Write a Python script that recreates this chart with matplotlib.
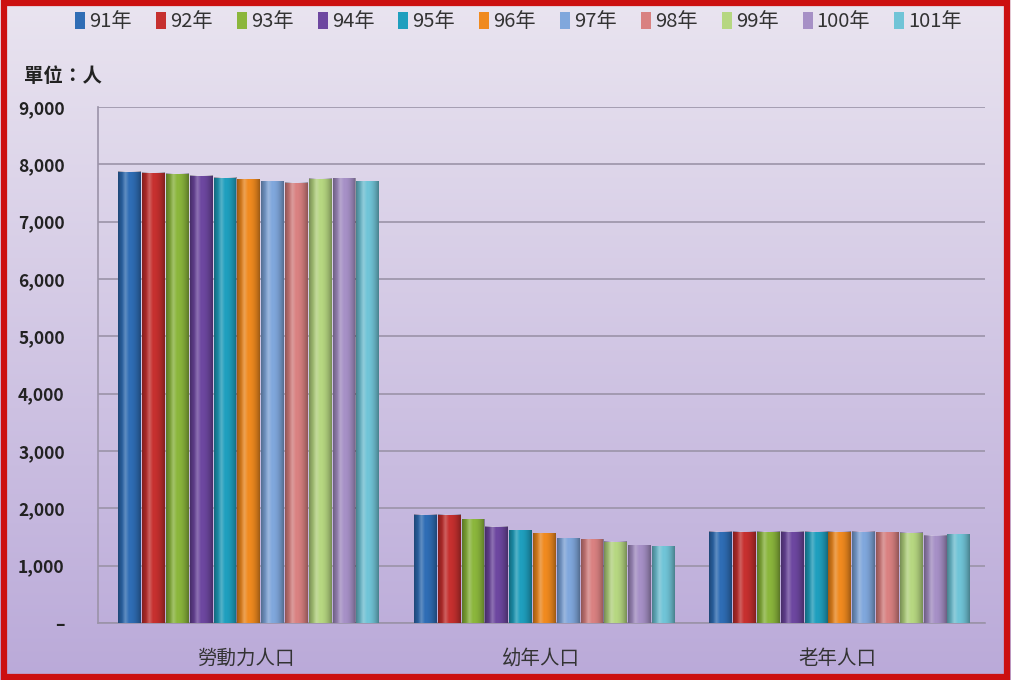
import numpy as np
import matplotlib
matplotlib.use("Agg")
import matplotlib.pyplot as plt
from matplotlib.patches import Rectangle
from matplotlib.ticker import FuncFormatter

plt.rcParams['font.family'] = ['Noto Sans CJK TC', 'DejaVu Sans']

categories = ['勞動力人口', '幼年人口', '老年人口']
years = ['91年', '92年', '93年', '94年', '95年', '96年', '97年', '98年', '99年', '100年', '101年']
labour = [7870, 7853, 7832, 7797, 7762, 7739, 7704, 7680, 7750, 7760, 7704]
youth = [1884, 1884, 1809, 1680, 1622, 1564, 1477, 1460, 1418, 1360, 1343]
elderly = [1593, 1590, 1590, 1590, 1590, 1590, 1588, 1580, 1570, 1523, 1548]
colors = ['#2f6db5', '#c6302f', '#8bb63c', '#6d47a0', '#1f9fbe', '#f08a1f',
          '#80a7dc', '#d98181', '#b6d781', '#a690c6', '#70c4d7']

values = np.array([labour, youth, elderly])

fig = plt.figure(figsize=(10.11, 6.8), dpi=100)

# background gradient
bg = fig.add_axes([0, 0, 1, 1], zorder=-10)
grad = np.linspace(0, 1, 256).reshape(-1, 1)
top = np.array([0.915, 0.895, 0.94])
bot = np.array([0.73, 0.665, 0.85])
img = top[None, None, :] * (1 - grad[:, :, None]) + bot[None, None, :] * grad[:, :, None]
bg.imshow(img, aspect='auto', extent=[0, 1, 0, 1])
bg.set_axis_off()
fig.patches.append(Rectangle((0.004, 0.004), 0.992, 0.992, transform=fig.transFigure,
                             fill=False, edgecolor='#cc1010', linewidth=4.5))

ax = fig.add_axes([0.097, 0.0838, 0.877, 0.7588])
ax.set_facecolor('none')
n = len(years)
x = np.arange(len(categories))
group_w = 0.886
bw = group_w / n
for i in range(n):
    pos = x - group_w / 2 + bw * (i + 0.5) + 0.01
    bars = ax.bar(pos, values[:, i], width=bw * 0.96, color=colors[i],
                  edgecolor='none', label=years[i], zorder=3)
    for b in bars:
        # cylinder shading
        shade = np.linspace(-1, 1, 64)
        alpha = np.clip(np.abs(shade) ** 2 * 0.35, 0, 1)
        sh = np.zeros((1, 64, 4))
        sh[0, :, 3] = alpha
        ax.imshow(sh, extent=[b.get_x(), b.get_x() + b.get_width(), 0, b.get_height()],
                  aspect='auto', zorder=4, clip_on=True)
        hl = np.ones((1, 64, 4))
        hl[0, :, 3] = np.clip(0.25 - np.abs(shade + 0.35) * 0.8, 0, 1)
        ax.imshow(hl, extent=[b.get_x(), b.get_x() + b.get_width(), 0, b.get_height()],
                  aspect='auto', zorder=4)

ax.set_xlim(-0.5, 2.5)
ax.set_ylim(0, 9000)
ax.set_yticks(np.arange(0, 9001, 1000))
ax.yaxis.set_major_formatter(FuncFormatter(lambda v, p: '–' if v == 0 else f'{int(v):,}'))
ax.set_xticks(x)
ax.set_xticklabels(categories, fontsize=14, color='#333333')
ax.tick_params(axis='y', labelsize=12.5, colors='#222222', length=0, pad=24)
for t in ax.get_yticklabels():
    t.set_fontweight('bold')
ax.tick_params(axis='x', length=0, pad=18)
ax.grid(axis='y', color='#9b93a8', linewidth=1.2, zorder=0)
for s in ['top', 'right']:
    ax.spines[s].set_visible(False)
ax.spines['left'].set_color('#9b93a8')
ax.spines['bottom'].set_color('#9b93a8')
ax.spines['left'].set_linewidth(1.2)
ax.spines['bottom'].set_linewidth(1.2)

fig.text(0.024, 0.88, '單位：人', fontsize=14, fontweight='bold', color='#222222')

handles, labels = ax.get_legend_handles_labels()
fig.legend(handles, labels, loc='center', bbox_to_anchor=(0.513, 0.968), ncol=11,
           frameon=False, fontsize=14.5, handlelength=0.5, handleheight=0.9,
           handletextpad=0.2, columnspacing=1.2, labelcolor='#333333')

fig.savefig('out.png', dpi=100)
